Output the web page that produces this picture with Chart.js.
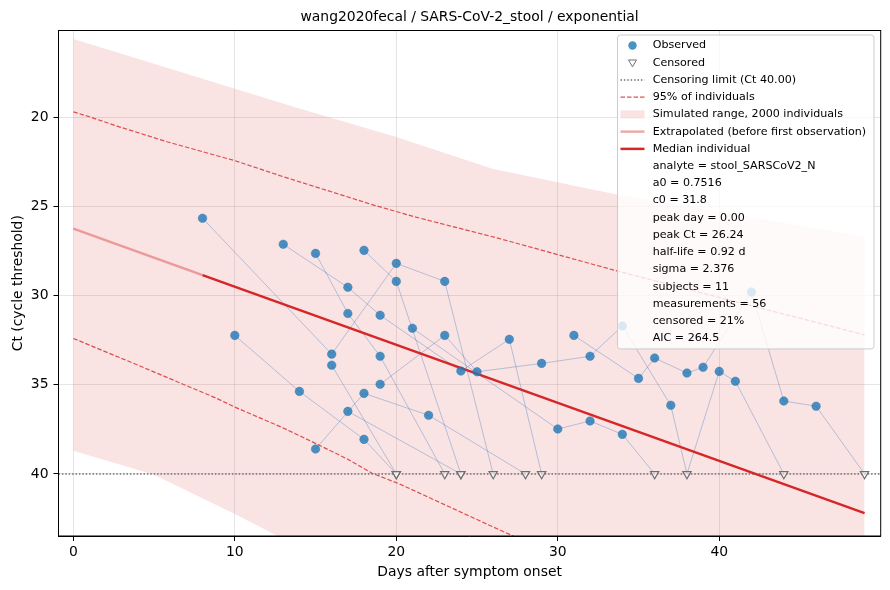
<!DOCTYPE html>
<html>
<head>
<meta charset="utf-8">
<title>wang2020fecal / SARS-CoV-2_stool / exponential</title>
<script src="https://cdn.jsdelivr.net/npm/chart.js@4.4.1/dist/chart.umd.min.js"></script>
<style>
  html, body { margin: 0; padding: 0; background: #fff; }
  #wrap { width: 890px; height: 590px; position: relative; }
</style>
</head>
<body>
<div id="wrap"><canvas id="ctChart"></canvas></div>
<script>
const chartTitle = 'wang2020fecal / SARS-CoV-2_stool / exponential';
const censorLimit = 40;

const xTicks = [0, 10, 20, 30, 40];
const yTicks = [20, 25, 30, 35, 40];

// one row per subject, null = censored (not detected, drawn at the limit)
const subjectDays = [
  [8, 16, 20, 23, 26],
  [13, 17, 19, 24, 27, 29],
  [15, 17, 19, 23],
  [18, 20, 24],
  [10, 14, 18, 20],
  [16, 20],
  [15, 18, 22, 28],
  [19, 23, 25, 29, 32, 34, 37, 38, 40, 41, 44],
  [31, 35, 36, 38, 39, 42, 44, 46, 49],
  [21, 30, 32, 34, 36],
  [17, 24]
];
const subjectCt = [
  [25.66, 33.28, 28.19, 29.2, null],
  [27.12, 29.53, 31.1, 34.23, 32.45, null],
  [27.63, 31.0, 33.4, null],
  [27.46, 29.2, null],
  [32.23, 35.37, 38.06, null],
  [33.9, null],
  [38.6, 35.48, 36.71, null],
  [34.97, 32.23, 34.27, 33.8, 33.4, 31.7, 36.15, null, 34.25, 34.8, null],
  [32.23, 34.64, 33.5, 34.34, 34.02, 29.8, 35.91, 36.2, null],
  [31.83, 37.48, 37.03, 37.78, null],
  [36.49, null]
];

// fitted median individual
const extrapDays = [0, 8];
const extrapCt = [26.24, 28.85];
const medianDays = [8, 49];
const medianCt = [28.85, 42.2];

// simulated range (2000 individuals)
const bandDays = [0, 5, 10, 14, 20, 26, 33.5, 40, 49];
const bandLowCt = [15.6, 17.0, 18.4, 19.5, 21.1, 22.9, 24.3, 25.3, 26.7];
const bandHighCt = [38.7, 40.05, 42.25, 44.1, 46.5, 49, 51, 53, 56];

// 95% of individuals
const p95LowDays = [0, 1, 2.7, 5.8, 10, 13, 18.6, 21.1, 26.4, 33.6, 40, 49];
const p95LowCt = [19.69, 19.97, 20.49, 21.37, 22.43, 23.33, 24.92, 25.57, 26.8, 28.6, 30.1, 32.2];
const p95HighDays = [0, 4, 8.85, 10, 12.9, 14.8, 16.9, 18.5, 20.2, 25.1, 28];
const p95HighCt = [32.4, 33.9, 35.75, 36.25, 37.38, 38.2, 39.13, 39.96, 40.56, 42.6, 43.8];

const fitStats = [
  'analyte = stool_SARSCoV2_N',
  'a0 = 0.7516',
  'c0 = 31.8',
  'peak day = 0.00',
  'peak Ct = 26.24',
  'half-life = 0.92 d',
  'sigma = 2.376',
  'subjects = 11',
  'measurements = 56',
  'censored = 21%',
  'AIC = 264.5'
];

const xMin = -0.92, xMax = 50.0;
const yMin = 15.13, yMax = 43.48;

const blue = 'rgba(31,119,180,0.8)';
const red = '#d62728';
const extrapColor = 'rgba(214,39,40,0.4)';
const dashRed = 'rgba(214,39,40,0.8)';
const bandFill = 'rgba(214,39,40,0.13)';
const censorGray = '#707070';
const subjectColor = 'rgba(40,110,190,0.33)';
const gridColor = 'rgba(160,160,160,0.35)';
const font = '"DejaVu Sans", sans-serif';

const pts = (xs, ys) => xs.map((x, i) => ({ x, y: ys[i] }));

const observed = [];
const censored = [];
subjectDays.forEach((days, s) => {
  days.forEach((d, i) => {
    const ct = subjectCt[s][i];
    if (ct === null) censored.push({ x: d, y: censorLimit });
    else observed.push({ x: d, y: ct });
  });
});

const subjectLines = subjectDays.map((days, s) => ({
  data: days.map((d, i) => ({ x: d, y: subjectCt[s][i] ?? censorLimit })),
  borderColor: subjectColor,
  borderWidth: 1,
  pointRadius: 0,
  order: 4
}));

const noLine = 'rgba(0,0,0,0)';

const datasets = [
  {
    label: 'Observed', data: observed, showLine: false,
    pointRadius: 4.3, pointBackgroundColor: blue, pointBorderColor: blue, pointBorderWidth: 0.5,
    order: 0
  },
  {
    label: 'Censored', data: censored, showLine: false,
    pointStyle: 'triangle', rotation: 180, pointRadius: 4.8,
    pointBackgroundColor: 'rgba(255,255,255,0.55)', pointBorderColor: censorGray, pointBorderWidth: 1.2,
    order: 1
  },
  { label: 'Median individual', data: pts(medianDays, medianCt), borderColor: red, borderWidth: 2.5, pointRadius: 0, order: 2 },
  { label: 'Extrapolated', data: pts(extrapDays, extrapCt), borderColor: extrapColor, borderWidth: 2.5, pointRadius: 0, order: 3 },
  ...subjectLines,
  {
    label: 'Censoring limit', data: [{ x: xMin, y: censorLimit }, { x: xMax, y: censorLimit }],
    borderColor: censorGray, borderWidth: 1.5, borderDash: [1.5, 1.9], pointRadius: 0, order: 5
  },
  { label: '95% low', data: pts(p95LowDays, p95LowCt), borderColor: dashRed, borderWidth: 1.2, borderDash: [4.5, 2], pointRadius: 0, order: 6 },
  { label: '95% high', data: pts(p95HighDays, p95HighCt), borderColor: dashRed, borderWidth: 1.2, borderDash: [4.5, 2], pointRadius: 0, order: 7 },
  {
    label: 'Simulated range', data: pts(bandDays, bandLowCt), borderColor: noLine, borderWidth: 1,
    pointRadius: 0, fill: '+1', backgroundColor: bandFill, order: 8
  },
  { label: 'band edge', data: pts(bandDays, bandHighCt), borderColor: noLine, borderWidth: 1, pointRadius: 0, fill: false, order: 9 }
];

const legendRows = [
  { label: 'Observed', kind: 'dot' },
  { label: 'Censored', kind: 'tri' },
  { label: `Censoring limit (Ct ${censorLimit.toFixed(2)})`, kind: 'line', color: censorGray, width: 1.5, dash: [1.5, 1.9] },
  { label: '95% of individuals', kind: 'line', color: dashRed, width: 1.2, dash: [4.5, 2] },
  { label: 'Simulated range, 2000 individuals', kind: 'box' },
  { label: 'Extrapolated (before first observation)', kind: 'line', color: extrapColor, width: 2.5 },
  { label: 'Median individual', kind: 'line', color: red, width: 2.5 },
  ...fitStats.map(t => ({ label: t }))
];

function drawHandle(ctx, row, x, y) {
  const cx = x + 12;
  ctx.save();
  if (row.kind === 'dot') {
    ctx.fillStyle = blue;
    ctx.beginPath();
    ctx.arc(cx, y, 4.2, 0, Math.PI * 2);
    ctx.fill();
  } else if (row.kind === 'tri') {
    const r = 4.6;
    ctx.beginPath();
    ctx.moveTo(cx - r * 0.866, y - r * 0.6);
    ctx.lineTo(cx + r * 0.866, y - r * 0.6);
    ctx.lineTo(cx, y + r * 0.9);
    ctx.closePath();
    ctx.fillStyle = '#fff';
    ctx.fill();
    ctx.strokeStyle = censorGray;
    ctx.lineWidth = 1;
    ctx.stroke();
  } else if (row.kind === 'box') {
    ctx.fillStyle = bandFill;
    ctx.fillRect(x, y - 4, 24, 8);
  } else if (row.kind === 'line') {
    ctx.strokeStyle = row.color;
    ctx.lineWidth = row.width;
    ctx.setLineDash(row.dash || []);
    ctx.beginPath();
    ctx.moveTo(x, y);
    ctx.lineTo(x + 24, y);
    ctx.stroke();
  }
  ctx.restore();
}

const framePlugin = {
  id: 'frame',
  afterDatasetsDraw(chart) {
    const { ctx, chartArea: a } = chart;
    ctx.save();
    ctx.strokeStyle = '#000';
    ctx.lineWidth = 1;
    ctx.strokeRect(a.left, a.top, a.right - a.left, a.bottom - a.top);
    ctx.restore();
  }
};

const titlePlugin = {
  id: 'plotTitle',
  afterDraw(chart) {
    const { ctx, chartArea: a } = chart;
    ctx.save();
    ctx.font = `13.9px ${font}`;
    ctx.fillStyle = '#000';
    ctx.textAlign = 'center';
    ctx.textBaseline = 'middle';
    ctx.fillText(chartTitle, (a.left + a.right) / 2, 17);
    ctx.restore();
  }
};

const legendPlugin = {
  id: 'boxLegend',
  afterDraw(chart) {
    const { ctx, chartArea: a } = chart;
    const rowH = 17.23;
    ctx.save();
    ctx.font = `11.1px ${font}`;
    const textW = Math.max(...legendRows.map(r => ctx.measureText(r.label).width));
    const w = 35.2 + textW + 4.7;
    const h = 10.5 + rowH * (legendRows.length - 1) + 10.5;
    const right = a.right - 6.7;
    const left = Math.min(right - w, 617.5);
    const top = a.top + 4.5;

    ctx.beginPath();
    ctx.roundRect(left, top, right - left, h, 3);
    ctx.fillStyle = 'rgba(255,255,255,0.8)';
    ctx.fill();
    ctx.strokeStyle = '#cccccc';
    ctx.lineWidth = 1;
    ctx.stroke();

    ctx.textBaseline = 'middle';
    ctx.textAlign = 'left';
    legendRows.forEach((row, i) => {
      const y = top + 10.5 + i * rowH;
      if (row.kind) drawHandle(ctx, row, left + 3, y);
      ctx.fillStyle = '#000';
      ctx.fillText(row.label, left + 35.2, y);
    });
    ctx.restore();
  }
};

Chart.defaults.font.family = font;
Chart.defaults.color = '#000';

new Chart(document.getElementById('ctChart'), {
  type: 'line',
  data: { datasets },
  options: {
    responsive: true,
    maintainAspectRatio: false,
    animation: false,
    events: [],
    layout: { padding: { top: 30.5, right: 9.3, left: 0, bottom: 0 } },
    plugins: {
      legend: { display: false },
      tooltip: { enabled: false },
      title: { display: false }
    },
    scales: {
      x: {
        type: 'linear',
        min: xMin,
        max: xMax,
        afterFit: s => { s.height = 54; },
        afterBuildTicks: s => { s.ticks = xTicks.map(v => ({ value: v })); },
        grid: { color: gridColor, lineWidth: 0.8, tickColor: '#000', tickLength: 5, tickWidth: 1 },
        border: { display: true, color: '#000', width: 1 },
        ticks: { padding: 3, color: '#000', font: { size: 13.9 }, maxRotation: 0 },
        title: {
          display: true, text: 'Days after symptom onset', color: '#000',
          font: { size: 13.9 }, padding: { top: 0, bottom: 9.6 }
        }
      },
      y: {
        type: 'linear',
        reverse: true,
        min: yMin,
        max: yMax,
        afterFit: s => { s.width = 58.5; },
        afterBuildTicks: s => { s.ticks = yTicks.map(v => ({ value: v })); },
        grid: { color: gridColor, lineWidth: 0.8, tickColor: '#000', tickLength: 5, tickWidth: 1 },
        border: { display: true, color: '#000', width: 1 },
        ticks: { padding: 5, color: '#000', font: { size: 13.9 } },
        title: {
          display: true, text: 'Ct (cycle threshold)', color: '#000',
          font: { size: 13.9 }, padding: { top: 9.6, bottom: 0 }
        }
      }
    }
  },
  plugins: [framePlugin, titlePlugin, legendPlugin]
});
</script>
</body>
</html>
